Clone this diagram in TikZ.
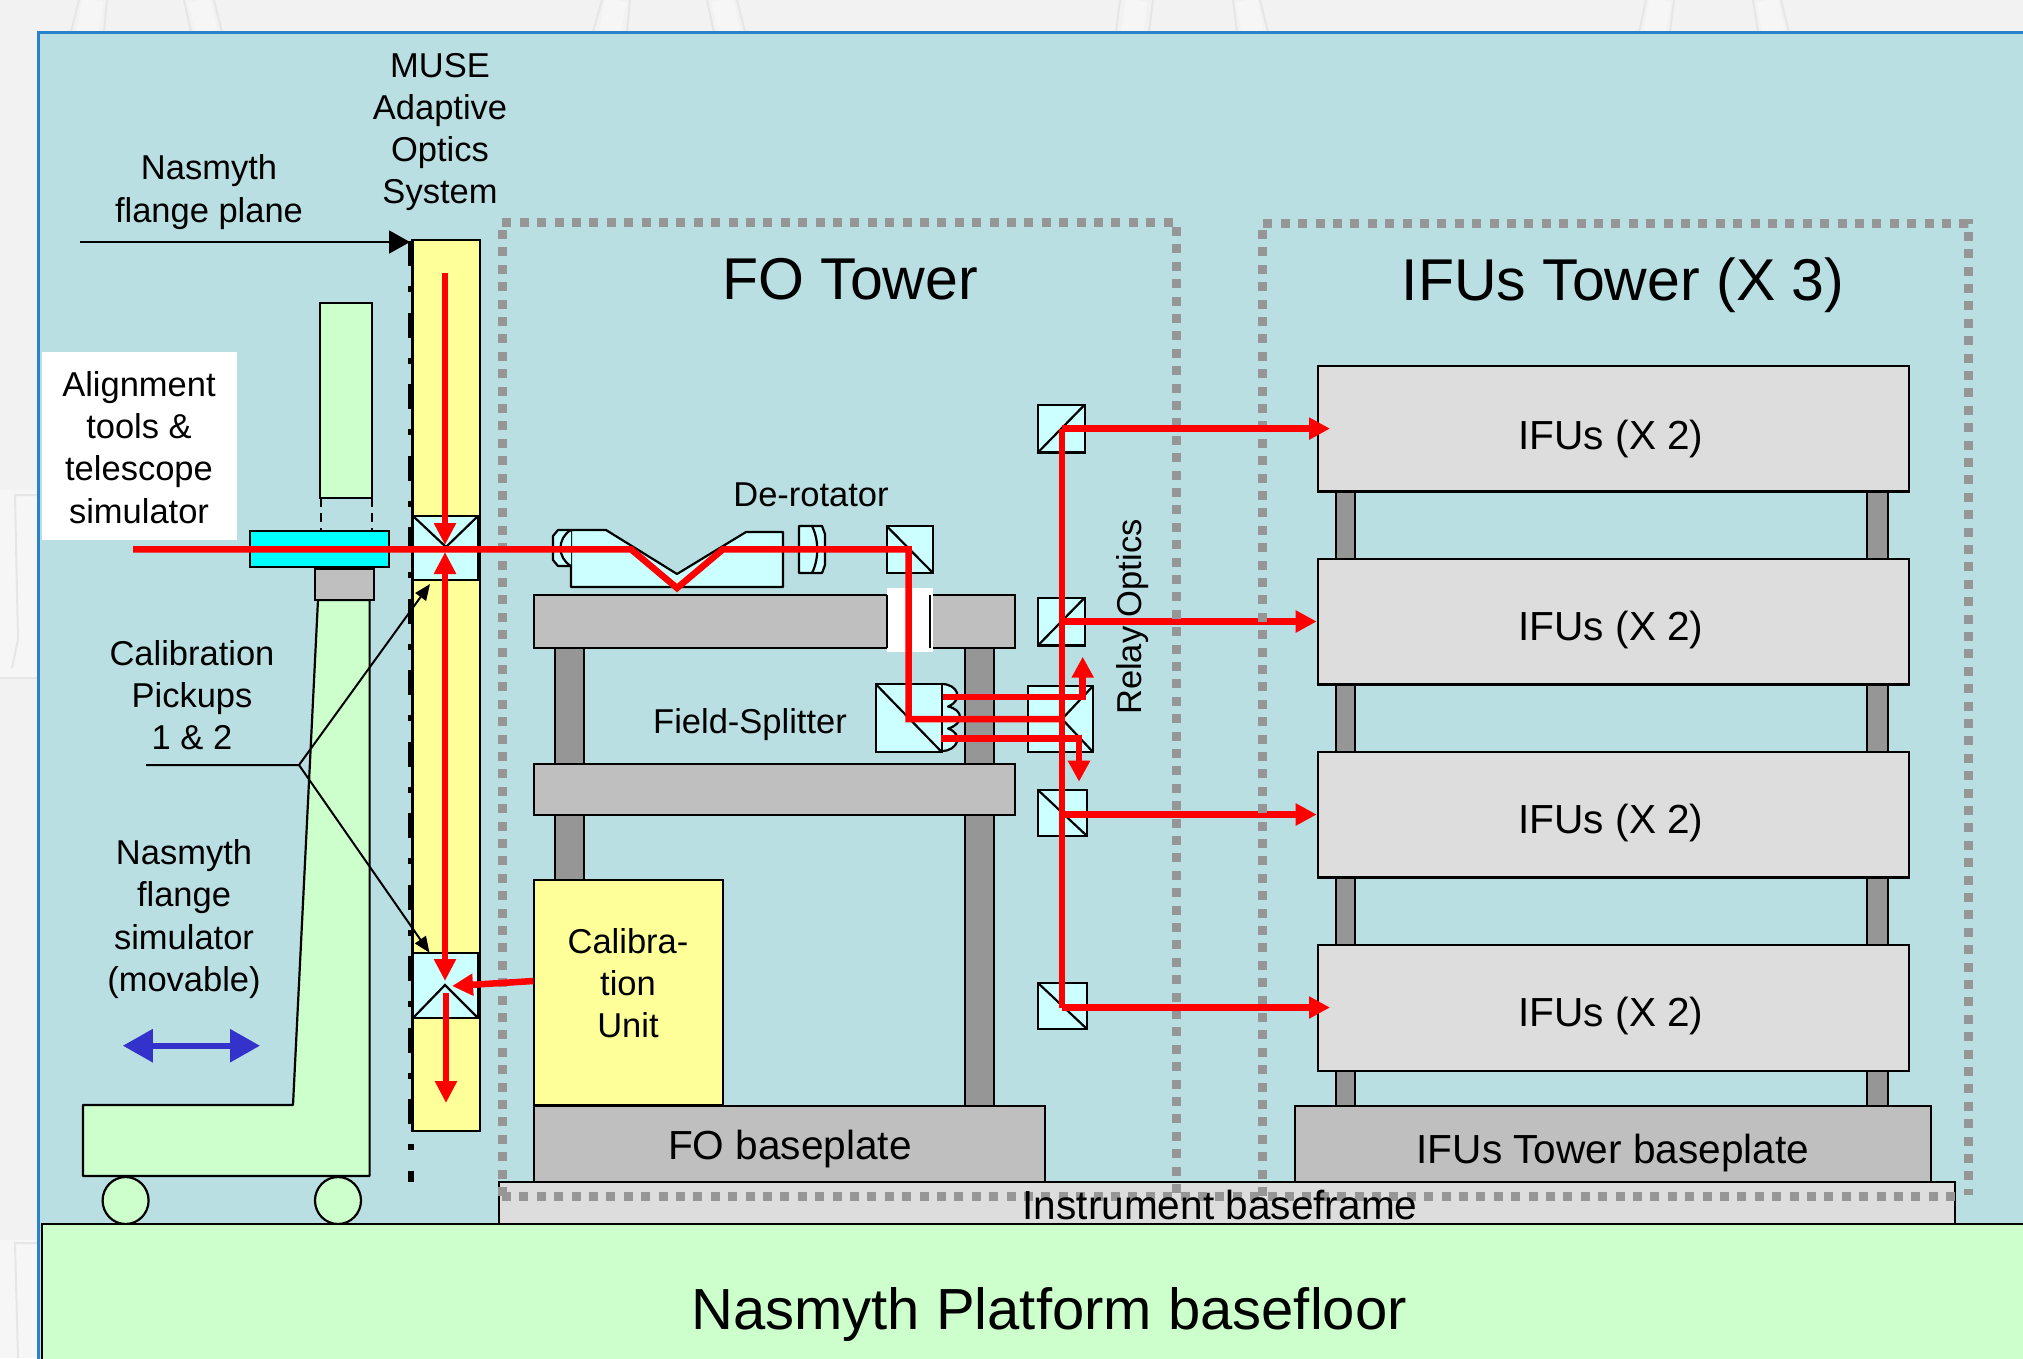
\documentclass[tikz,border=0pt]{standalone}
\usepackage{fontspec}
\setmainfont{Liberation Sans}
\usetikzlibrary{arrows.meta,shapes.geometric}
\definecolor{pagebg}{HTML}{F2F2F2}
\definecolor{panelbg}{HTML}{BADFE2}
\definecolor{panelline}{HTML}{2A82C8}
\definecolor{glass}{HTML}{CCFFFF}
\definecolor{plateblue}{HTML}{00FFFF}
\definecolor{mint}{HTML}{CCFFCC}
\definecolor{pale}{HTML}{FFFF99}
\definecolor{midgray}{HTML}{BFBFBF}
\definecolor{lightgray}{HTML}{DDDDDD}
\definecolor{darkleg}{HTML}{969696}
\definecolor{dotgray}{HTML}{969696}
\definecolor{moveblue}{HTML}{3333CC}
\definecolor{faintline}{HTML}{E6E6E6}
\definecolor{faintband}{HTML}{F6F6F6}
\newcommand{\rectnode}[6]{%
  \pgfmathsetmacro\rectw{#5-#3}\pgfmathsetmacro\recth{#6-#4}%
  \node[#2,minimum width=\rectw pt,minimum height=\recth pt] (#1) at ({(#3+#5)/2},{(#4+#6)/2}) {};}
\tikzset{
  x=1pt,y=-1pt,
  boxbase/.style={draw=black,rectangle,inner sep=0pt,outer sep=0pt,line width=2.2pt},
  glassbox/.style={boxbase,fill=glass},
  graybox/.style={boxbase,fill=midgray},
  lightbox/.style={boxbase,fill=lightgray},
  legbox/.style={boxbase,fill=darkleg},
  mintbox/.style={boxbase,fill=mint},
  palebox/.style={boxbase,fill=pale},
  outline/.style={draw=black,line width=2.2pt,line join=round},
  split/.style={draw=black,line width=2.2pt},
  lab/.style={align=center,inner sep=0pt,font=\fontsize{34.5}{42.3}\selectfont},
  midlab/.style={align=center,inner sep=0pt,font=\fontsize{40.6}{46}\selectfont},
  biglab/.style={align=center,inner sep=0pt,font=\fontsize{59}{66}\selectfont},
  floorfont/.style={align=center,inner sep=0pt,font=\fontsize{58}{66}\selectfont},
  dotline/.style={draw=dotgray,line width=9pt,dash pattern=on 9pt off 8.4pt},
  beam/.style={draw=red,line width=6.5pt,line join=miter},
  beamwide/.style={draw=red,line width=7.5pt,line join=miter},
  beamthin/.style={draw=red,line width=6pt,line join=miter},
  beamtip/.style={beam,-{Triangle[length=21pt,width=21pt]}},
  beamwidetip/.style={beamwide,-{Triangle[length=21pt,width=21pt]}},
  beamthintip/.style={beamthin,-{Triangle[length=22pt,width=21pt]}},
  thinarrow/.style={draw=black,line width=2pt,-{Triangle[length=16pt,width=13pt]}},
  wheel/.style={draw=black,line width=2.2pt,fill=mint,ellipse,inner sep=0pt,outer sep=0pt,minimum width=46pt,minimum height=47pt},
}
\begin{document}
\begin{tikzpicture}
\clip (0,0) rectangle (2023,1358);
\fill[pagebg] (0,0) rectangle (2023,1358);
% faint backdrop strokes
\foreach \a/\b/\c/\d in {79/71/107/104,184/191/214/222,602/593/630/627,707/714/737/745,1120/1116/1153/1149,1233/1237/1260/1268,1646/1639/1674/1670,1753/1758/1781/1789}{
  \draw[faintband,line width=22pt] ({(\a+\c)/2},0) -- ({(\b+\d)/2},32);
  \draw[faintline,line width=2pt] (\a,0) -- (\b,32);
  \draw[faintline,line width=2pt] (\c,0) -- (\d,32);
}
\fill[faintband] (0,490) rectangle (38,678);
\fill[faintband] (0,1240) rectangle (38,1358);
\draw[faintline,line width=2pt] (38,495) -- (15,495) -- (18,640) -- (12,668);
\draw[faintline,line width=2pt] (0,678) -- (38,678);
\draw[faintline,line width=2pt] (38,1243) -- (15,1243) -- (18,1358);

\draw[fill=panelbg,draw=panelline,line width=3pt] (38.6,32.6) rectangle (2040,1375);

% AO column
\rectnode{aocol}{palebox}{412.5}{240}{480}{1131}
\draw[draw=black,line width=6pt,dash pattern=on 25pt off 20.25pt on 6pt off 20.25pt] (410.5,241) -- (410.5,1182);
\rectnode{upcube}{glassbox}{413}{516}{478}{580}
\rectnode{locube}{glassbox}{413}{953}{478}{1018}
\coordinate (upmid) at (446,547);
\coordinate (lomid) at (445,985);
\draw[split] (upcube.north west) -- (upmid) -- (upcube.north east);
\draw[split] (locube.south west) -- (lomid) -- (locube.south east);

% Flange simulator
\draw[outline,fill=mint] (318,600) -- (369.6,600) -- (369.6,1176) -- (83,1176) -- (83,1105) -- (293,1105) -- cycle;
\rectnode{simtop}{mintbox}{320}{303}{372}{498}
\draw[black,line width=2.2pt,dash pattern=on 9pt off 6pt] (321,498) -- (321,530);
\draw[black,line width=2.2pt,dash pattern=on 9pt off 6pt] (372,498) -- (372,530);
\rectnode{plate}{boxbase,fill=plateblue}{250}{530.6}{389}{567}
\rectnode{grayblock}{graybox}{315}{569}{374}{600}
\draw[black,line width=2.2pt,dash pattern=on 9pt off 5pt] (320,600) -- (368,600);
\node[wheel] (wheelA) at (125.6,1200.5) {};
\node[wheel] (wheelB) at (338,1200.5) {};

% FO structure
\rectnode{legA}{legbox}{555}{640}{584}{900}
\rectnode{legB}{legbox}{965}{640}{994}{1110}
\rectnode{shelfA}{graybox}{534}{595}{1015}{648}
\rectnode{shelfB}{graybox}{534}{764}{1015}{815}
\fill[white] (887,588) rectangle (932.5,652);
\draw[black,line width=2.2pt] (887,595) -- (887,648);
\draw[black,line width=2.2pt] (930,595) -- (930,648);
\rectnode{calib}{palebox}{534}{880}{723}{1105}
\rectnode{fobase}{graybox}{534}{1105.6}{1045}{1182}

% IFU tower
\rectnode{legC}{legbox}{1336}{485}{1355}{1110}
\rectnode{legD}{legbox}{1867}{485}{1888}{1110}
\rectnode{ifuA}{lightbox}{1318}{366}{1909}{491.5}
\rectnode{ifuB}{lightbox}{1318}{558.7}{1909}{684.4}
\rectnode{ifuC}{lightbox}{1318}{751.6}{1909}{877.4}
\rectnode{ifuD}{lightbox}{1318}{944.6}{1909}{1071}
\rectnode{ifubase}{graybox}{1295}{1105.6}{1931}{1182}

% Frame and floor
\rectnode{frame}{lightbox}{499}{1181.7}{1955}{1224}
\draw[draw=black,line width=2.2pt,fill=mint] (42,1224) rectangle (2040,1375);

% De-rotator
\draw[outline,fill=glass] (571,530) -- (606,530) -- (677,574) -- (746,532) -- (783,532) -- (783,587) -- (571,587) -- cycle;
\draw[outline,fill=glass] (571,530) -- (558,530) -- (553,536) -- (553,560) -- (558,566) -- (571,566);
\draw[outline] (571,530) .. controls (557,538) and (557,558) .. (571,566);
\draw[outline,fill=glass] (799,526) -- (822,526) -- (825,534) -- (825,565) -- (822,573) -- (799,573) -- cycle;
\draw[outline] (812,526) .. controls (819,540) and (819,559) .. (812,573);
\rectnode{foldcube}{glassbox}{886.6}{526}{933}{573}
\draw[split] (foldcube.north west) -- (foldcube.south east);

% Field splitter
\draw[outline,fill=glass] (941.7,684) .. controls (958,684) and (964,700) .. (948,706.5) .. controls (964,710) and (964,724) .. (948,728.5) .. controls (964,734) and (958,751) .. (941.7,751) -- cycle;
\rectnode{fscube}{glassbox}{875.7}{684}{941.7}{752}
\draw[split] (fscube.north west) -- (fscube.south east);

% Relay cubes
\rectnode{relaybig}{glassbox}{1027.7}{686}{1093}{752}
\coordinate (relaymid) at (1062,719);
\draw[split] (relaybig.north east) -- (relaymid) -- (relaybig.south east);
\rectnode{relayA}{glassbox}{1038}{404.7}{1084.7}{452.4}
\rectnode{relayB}{glassbox}{1038}{597.7}{1084.7}{645.4}
\rectnode{relayC}{glassbox}{1038}{790}{1087}{836}
\rectnode{relayD}{glassbox}{1038}{983}{1087}{1029}
\draw[split] (relayA.south west) -- (relayA.north east);
\draw[split] (relayB.south west) -- (relayB.north east);
\draw[split] (relayC.north west) -- (relayC.south east);
\draw[split] (relayD.north west) -- (relayD.south east);

% Beam anchors
\coordinate (trunkA) at (1062,428.6);
\coordinate (trunkB) at (1062,621.5);
\coordinate (trunkC) at (1062,814.5);
\coordinate (trunkD) at (1062,1007.5);
\coordinate (outA) at (1330,428.6);
\coordinate (outB) at (1316.7,621.5);
\coordinate (outC) at (1316.7,814.5);
\coordinate (outD) at (1330,1007.5);

% Beams that pass under the dotted outlines
\draw[beamtip] (trunkB) -- (outB);
\draw[beamtip] (trunkC) -- (outC);

% Dotted tower outlines
\draw[dotline] (502,1196) -- (502,222) -- (1176,222) -- (1176,1197);
\draw[dotline] (1262,1196) -- (1262,223) -- (1968,223) -- (1968,1195);
\draw[dotline] (502,1196) -- (1962,1196);

% Beams
\coordinate (inbeam) at (133,549.3);
\coordinate (vA) at (631,549.3);
\coordinate (vB) at (677,588);
\coordinate (vC) at (723,549.3);
\coordinate (foldpt) at (908.5,549.3);
\coordinate (fspt) at (908.5,719);
\draw[beam] (inbeam) -- (vA) -- (vB) -- (vC) -- (foldpt) -- (fspt) -- (relaymid);
\draw[beam] (trunkA) -- (trunkD);
\draw[beamwidetip] (trunkA) -- (outA);
\draw[beamwidetip] (trunkD) -- (outD);
\coordinate (fsA) at (943,697);
\coordinate (fsAb) at (1082.7,697);
\coordinate (fsAt) at (1082.7,656.7);
\coordinate (fsB) at (941,738.7);
\coordinate (fsBb) at (1079,738.7);
\coordinate (fsBt) at (1079,781.7);
\draw[beamtip] (fsA) -- (fsAb) -- (fsAt);
\draw[beamtip] (fsB) -- (fsBb) -- (fsBt);

\coordinate (aoA) at (445,272.6);
\coordinate (aoAt) at (445,545);
\coordinate (aoB) at (445,981);
\coordinate (aoBt) at (445,552);
\coordinate (aoC) at (446,993);
\coordinate (aoCt) at (446,1103);
\draw[beamthintip] (aoA) -- (aoAt);
\draw[beamthin,{Triangle[length=22pt,width=21pt]}-{Triangle[length=22pt,width=21pt]}] (aoBt) -- (aoB);
\draw[beamthintip] (aoC) -- (aoCt);
\coordinate (calout) at (533.5,981);
\coordinate (calin) at (452,986);
\draw[beamtip] (calout) -- (calin);

% Thin arrows
\coordinate (flangeS) at (80,242);
\coordinate (flangeT) at (410,242);
\draw[draw=black,line width=2pt,-{Triangle[length=21pt,width=23pt]}] (flangeS) -- (flangeT);
\coordinate (pickS) at (146,765);
\coordinate (pickJ) at (299,765);
\coordinate (pickU) at (430,584);
\coordinate (pickD) at (429.5,952.7);
\draw[thinarrow] (pickS) -- (pickJ) -- (pickU);
\draw[thinarrow] (pickJ) -- (pickD);

% Blue move arrow
\coordinate (moveL) at (122.8,1045.7);
\coordinate (moveR) at (260,1045.7);
\draw[draw=moveblue,line width=6pt,{Triangle[length=30pt,width=32pt]}-{Triangle[length=30pt,width=32pt]}] (moveL) -- (moveR);

% White label panel
\fill[white] (42,352) rectangle (237,540);

% Labels
\node[lab] (muse) at (440,132) {MUSE\\Adaptive\\Optics\\System};
\node[lab] (flangeplane) at (209,192) {Nasmyth\\flange plane};
\node[lab] (align) at (139,447.5) {Alignment\\tools \&\\telescope\\simulator};
\node[lab] (pickups) at (192,695) {Calibration\\Pickups\\1 \& 2};
\node[lab] (simlab) at (184,919) {Nasmyth\\flange\\simulator\\(movable)};
\node[lab] (derot) at (811,495) {De-rotator};
\node[lab] (fslab) at (750,725) {Field-Splitter};
\node[lab,rotate=90] (relaylab) at (1133,617) {Relay Optics};
\node[lab] (callab) at (628,983) {Calibra-\\tion\\Unit};
\node[biglab] (fotower) at (850,279) {FO Tower};
\node[biglab] (ifutower) at (1623,285) {IFUs Tower (X 3)};
\node[midlab] (ifulabA) at (1611,438.5) {IFUs (X 2)};
\node[midlab] (ifulabB) at (1611,629.5) {IFUs (X 2)};
\node[midlab] (ifulabC) at (1611,822.5) {IFUs (X 2)};
\node[midlab] (ifulabD) at (1611,1015.5) {IFUs (X 2)};
\node[midlab] (fobaselab) at (790,1149) {FO baseplate};
\node[midlab] (ifubaselab) at (1613,1153) {IFUs Tower baseplate};
\node[midlab] (framelab) at (1220,1205) {Instrument baseframe};
\node[floorfont] (floorlab) at (1049,1314) {Nasmyth Platform basefloor};
\end{tikzpicture}
\end{document}
